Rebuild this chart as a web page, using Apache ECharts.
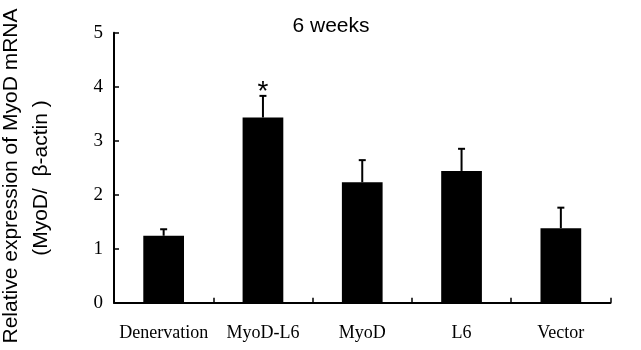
<!DOCTYPE html>
<html>
<head>
<meta charset="utf-8">
<script src="https://cdn.jsdelivr.net/npm/echarts@6/dist/echarts.min.js"></script>
<style>html,body{margin:0;padding:0;background:#fff}#c{width:641px;height:350px}</style>
</head>
<body>
<div id="c"></div>
<script>
var categories = ['Denervation', 'MyoD-L6', 'MyoD', 'L6', 'Vector'];
var means = [1.24, 3.43, 2.23, 2.44, 1.38];
var errUpper = [1.36, 3.83, 2.64, 2.85, 1.76];
var significance = ['', '*', '', '', ''];
var yTicks = [0, 1, 2, 3, 4, 5];

var chart = echarts.init(document.getElementById('c'), null, {renderer: 'canvas'});
var errData = categories.map(function (c, i) { return [i, means[i], errUpper[i], significance[i]]; });

chart.setOption({
  animation: false,
  backgroundColor: '#fff',
  graphic: [
    {type: 'text', x: 331, y: 26,
     style: {text: '6 weeks', fontFamily: 'Liberation Sans', fontSize: 21, fill: '#000', align: 'center', verticalAlign: 'middle'}},
    {type: 'text', x: 11, y: 176, rotation: Math.PI / 2,
     style: {text: 'Relative expression of MyoD mRNA', fontFamily: 'Liberation Sans', fontSize: 21, fill: '#000', align: 'center', verticalAlign: 'middle'}},
    {type: 'text', x: 41, y: 178, rotation: Math.PI / 2,
     style: {text: '(MyoD/  \u03b2-actin )', fontFamily: 'Liberation Sans', fontSize: 21, fill: '#000', align: 'center', verticalAlign: 'middle'}}
  ],
  grid: {left: 114, right: 30.5, top: 32.7, bottom: 47.3, containLabel: false},
  xAxis: {
    type: 'category', data: categories, boundaryGap: true,
    axisLine: {lineStyle: {color: '#000', width: 2}},
    axisTick: {show: true, inside: true, length: 5, lineStyle: {color: '#000', width: 1.5}},
    axisLabel: {color: '#000', fontFamily: 'Liberation Serif', fontSize: 18, margin: 22, interval: 0}
  },
  yAxis: {
    type: 'value', min: 0, max: 5, interval: 1,
    axisLine: {show: true, lineStyle: {color: '#000', width: 2}},
    axisTick: {show: true, inside: true, length: 5, lineStyle: {color: '#000', width: 1.5}},
    splitLine: {show: false},
    axisLabel: {color: '#000', fontFamily: 'Liberation Serif', fontSize: 19, margin: 11,
      formatter: function (v) { return yTicks.indexOf(v) >= 0 ? String(v) : ''; }}
  },
  series: [
    {type: 'bar', data: means, barWidth: '41%', itemStyle: {color: '#000'}, z: 2},
    {type: 'custom', data: errData, z: 3,
     renderItem: function (params, api) {
       var x = api.value(0);
       var base = api.coord([x, api.value(1)]);
       var top = api.coord([x, api.value(2)]);
       var sig = api.value(3);
       var children = [
         {type: 'line', shape: {x1: base[0], y1: base[1], x2: top[0], y2: top[1]}, style: {stroke: '#000', lineWidth: 2}},
         {type: 'line', shape: {x1: top[0] - 3.5, y1: top[1], x2: top[0] + 3.5, y2: top[1]}, style: {stroke: '#000', lineWidth: 2}}
       ];
       if (sig) {
         children.push({type: 'text', x: top[0], y: top[1] - 4,
           style: {text: sig, fontFamily: 'Liberation Sans', fontSize: 28, fill: '#000', align: 'center', verticalAlign: 'middle'}});
       }
       return {type: 'group', children: children};
     }}
  ]
});
</script>
</body>
</html>
